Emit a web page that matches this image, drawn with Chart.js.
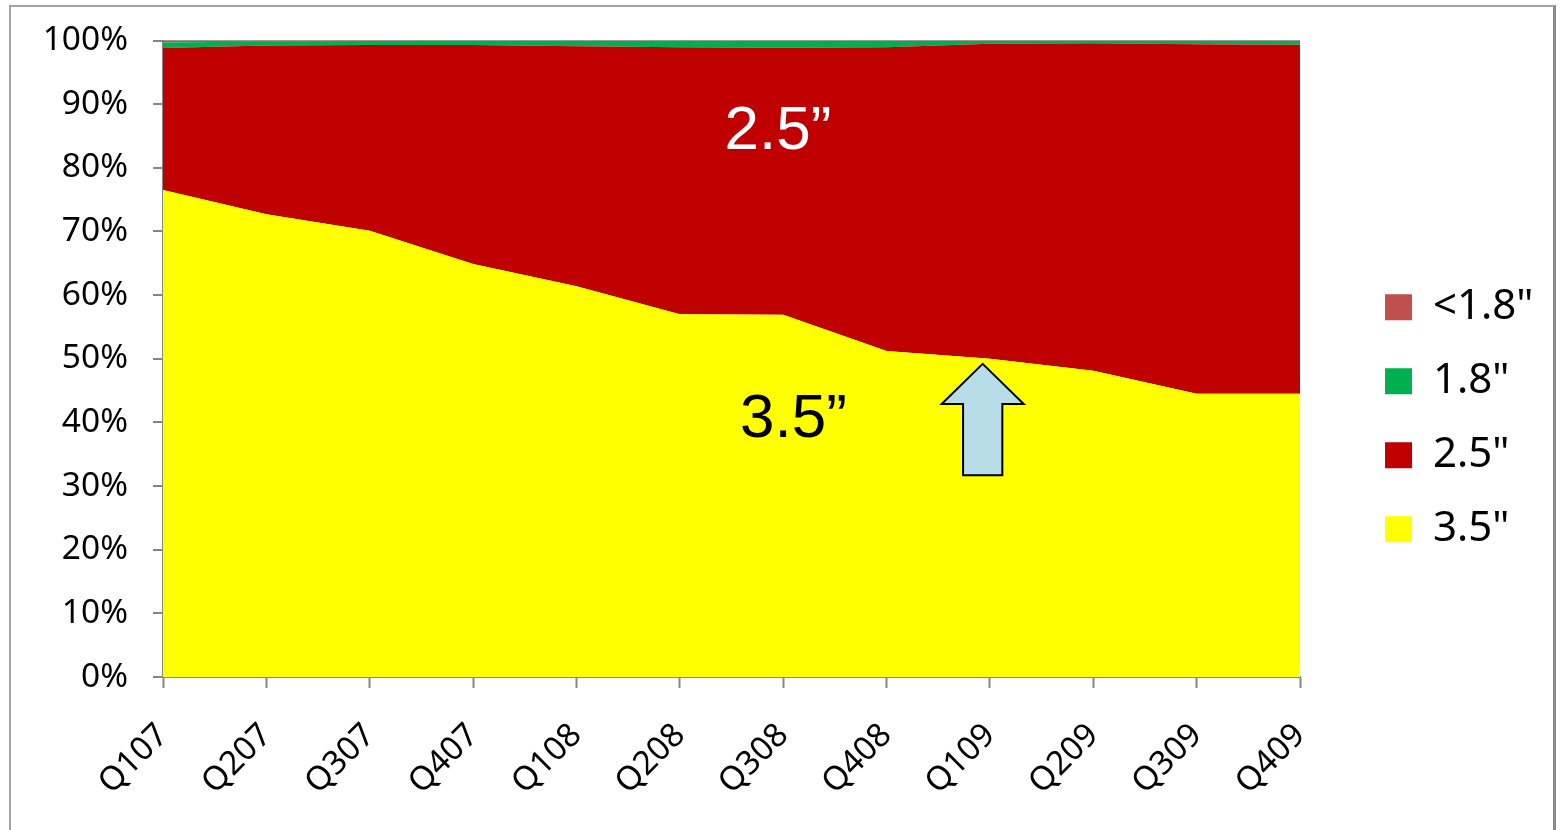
<!DOCTYPE html>
<html>
<head>
<meta charset="utf-8">
<title>Drive form factor mix</title>
<script src="https://cdn.jsdelivr.net/npm/chart.js@4/dist/chart.umd.min.js"></script>
<style>
  html, body { margin: 0; padding: 0; background: #ffffff; overflow: hidden; }
  #wrap { position: relative; width: 1562px; height: 830px; }
  #wrap canvas { position: absolute; left: 0; top: 0; }
  #frame {
    position: absolute; left: 9px; top: 5px; width: 1547px; height: 900px;
    border: 2px solid #a3a3a3; border-right: 3px solid #8a8a8a;
    box-sizing: border-box; pointer-events: none;
  }
</style>
</head>
<body>
<div id="wrap">
  <canvas id="chart" width="1562" height="830"></canvas>
  <div id="frame"></div>
</div>
<script>
// Quarterly unit share by drive size (percent of shipments)
const quarters = ['Q107', 'Q207', 'Q307', 'Q407', 'Q108', 'Q208', 'Q308', 'Q408', 'Q109', 'Q209', 'Q309', 'Q409'];
const share35 = [76.5, 72.7, 70.1, 64.9, 61.4, 57.0, 56.9, 51.2, 50.0, 48.1, 44.5, 44.5];
const share25 = [22.32, 26.51, 29.19, 34.39, 37.69, 41.93, 41.97, 47.73, 49.50, 51.46, 54.90, 54.84];
const share18 = [0.88, 0.64, 0.63, 0.66, 0.86, 1.02, 1.08, 1.02, 0.45, 0.40, 0.56, 0.62];
const shareUnder18 = [0.30, 0.15, 0.08, 0.05, 0.05, 0.05, 0.05, 0.05, 0.05, 0.04, 0.04, 0.04];
const seriesNames = ['3.5"', '2.5"', '1.8"', '<1.8"'];
const seriesColors = ['#ffff00', '#c00000', '#00b050', '#c0504d'];

// Value-axis ticks
const yTickMin = 0;
const yTickMax = 100;
const yTickStep = 10;

// In-plot callouts (category index, percent)
const calloutLabels = [
  { text: '2.5\u201d', x: 5.95, y: 83.0, color: '#ffffff' },
  { text: '3.5\u201d', x: 6.10, y: 37.7, color: '#000000' }
];
const arrowAt = { x: 7.93, tip: 49.2, headBase: 42.9, bottom: 31.7, headHalf: 0.397, shaftHalf: 0.19 };

// Convert raw series into 100% shares per quarter
const rawSeries = [share35, share25, share18, shareUnder18];
const totals = quarters.map((_, i) => rawSeries.reduce((s, arr) => s + arr[i], 0));
const percentSeries = rawSeries.map(arr => arr.map((v, i) => v / totals[i] * 100));

Chart.defaults.font.family = '"Noto Sans", "Open Sans", sans-serif';
Chart.defaults.color = '#000000';

const AXIS_GRAY = '#868686';

const calloutPlugin = {
  id: 'callouts',
  afterDatasetsDraw(chart) {
    const { ctx, scales: { x, y } } = chart;
    ctx.save();
    ctx.font = '62px "Liberation Sans", Arial, sans-serif';
    ctx.textAlign = 'center';
    ctx.textBaseline = 'alphabetic';
    calloutLabels.forEach(c => {
      ctx.fillStyle = c.color;
      ctx.fillText(c.text, x.getPixelForValue(c.x), y.getPixelForValue(c.y));
    });

    // Upward block arrow
    const cx = x.getPixelForValue(arrowAt.x);
    const unit = x.getPixelForValue(1) - x.getPixelForValue(0);
    const hw = arrowAt.headHalf * unit;
    const sw = arrowAt.shaftHalf * unit;
    const yTip = y.getPixelForValue(arrowAt.tip);
    const yHead = y.getPixelForValue(arrowAt.headBase);
    const yBot = y.getPixelForValue(arrowAt.bottom);
    ctx.beginPath();
    ctx.moveTo(cx, yTip);
    ctx.lineTo(cx + hw, yHead);
    ctx.lineTo(cx + sw, yHead);
    ctx.lineTo(cx + sw, yBot);
    ctx.lineTo(cx - sw, yBot);
    ctx.lineTo(cx - sw, yHead);
    ctx.lineTo(cx - hw, yHead);
    ctx.closePath();
    ctx.fillStyle = '#b7dee8';
    ctx.fill();
    ctx.lineWidth = 2;
    ctx.lineJoin = 'miter';
    ctx.strokeStyle = '#000000';
    ctx.stroke();
    ctx.restore();
  }
};

new Chart(document.getElementById('chart'), {
  type: 'line',
  data: {
    labels: quarters,
    datasets: percentSeries.map((data, i) => ({
      label: seriesNames[i],
      data: data,
      backgroundColor: seriesColors[i],
      borderColor: seriesColors[i],
      borderWidth: 0,
      pointRadius: 0,
      tension: 0,
      fill: i === 0 ? 'origin' : '-1'
    }))
  },
  options: {
    responsive: false,
    animation: false,
    events: [],
    layout: { padding: { left: 0, top: 40.5, right: 18.5, bottom: 34 } },
    plugins: {
      tooltip: { enabled: false },
      title: { display: false },
      legend: {
        position: 'right',
        reverse: true,
        labels: {
          boxWidth: 27,
          boxHeight: 26,
          padding: 32,
          color: '#000000',
          font: { size: 42 }
        }
      }
    },
    scales: {
      x: {
        type: 'category',
        offset: false,
        z: 1,
        grid: { drawOnChartArea: false, tickLength: 11, tickColor: AXIS_GRAY, tickWidth: 2 },
        border: { color: AXIS_GRAY, width: 2 },
        ticks: {
          autoSkip: false, minRotation: 45, maxRotation: 45,
          padding: 28,
          font: { size: 33 }, color: '#000000'
        },
        afterFit(scale) { scale.height = 119; }
      },
      y: {
        stacked: true,
        min: yTickMin,
        max: yTickMax,
        z: 1,
        grid: {
          color: ctx => (ctx.tick && ctx.tick.value === yTickMax ? '#a0a0a0' : 'rgba(0,0,0,0)'),
          lineWidth: 2,
          tickLength: 10,
          tickColor: AXIS_GRAY,
          tickWidth: 2
        },
        border: { color: AXIS_GRAY, width: 2 },
        ticks: {
          stepSize: yTickStep,
          padding: 25,
          font: { size: 33.5 },
          color: '#000000',
          callback: v => v + '%'
        },
        afterFit(scale) { scale.width = 163; scale.paddingTop = 0; scale.paddingBottom = 0; }
      },
      legendGap: {
        type: 'linear',
        position: 'right',
        display: true,
        grid: { display: false, drawTicks: false },
        border: { display: false },
        ticks: { display: false },
        afterFit(scale) { scale.width = 53; }
      }
    }
  },
  plugins: [calloutPlugin]
});
</script>
</body>
</html>
